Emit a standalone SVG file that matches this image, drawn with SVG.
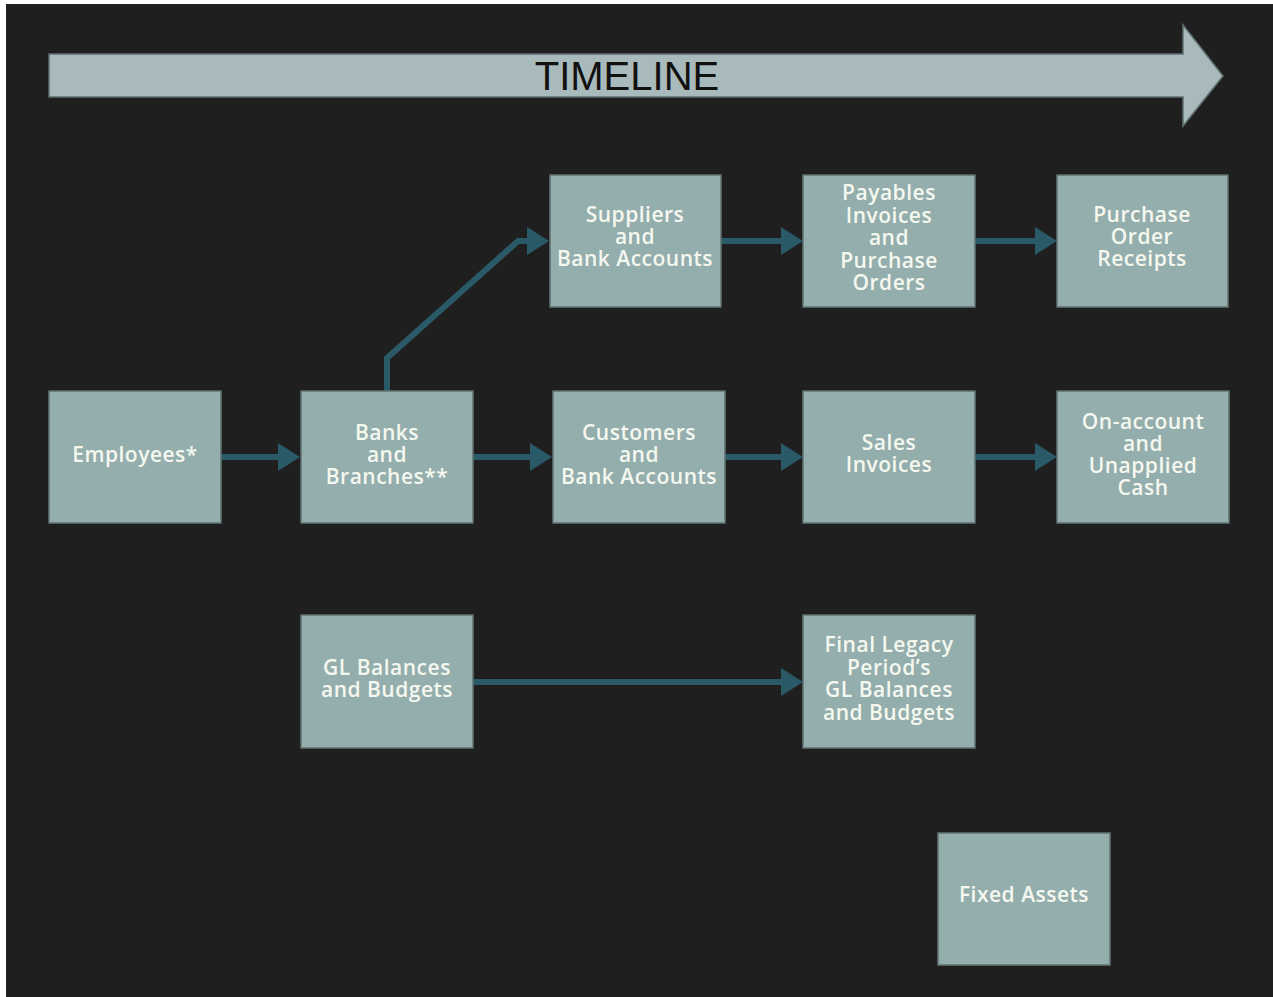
<svg xmlns="http://www.w3.org/2000/svg" width="1273" height="997" viewBox="0 0 1273 997">
<defs>
<style>
.node rect{fill:#94adad;stroke:#607373;stroke-width:1.5}
.node text{font-family:"Open Sans","Noto Sans",sans-serif;font-weight:600;font-size:21px;letter-spacing:0.5px;fill:#f4f8ef;text-anchor:middle}
.conn{fill:none;stroke:#2a5a68;stroke-width:6;marker-end:url(#ah)}
</style>
<marker id="ah" markerUnits="userSpaceOnUse" markerWidth="22" markerHeight="28" refX="0" refY="14" orient="auto" overflow="visible">
<path d="M0,0 L22,14 L0,28 Z" fill="#2a5a68"/>
</marker>
</defs>
<rect x="0" y="0" width="1273" height="997" fill="#ffffff"/>
<rect x="6" y="4" width="1267" height="993" fill="#1f1f1f"/>
<g id="timeline">
<polygon points="49,54 1183,54 1183,25 1223,76 1183,126 1183,97 49,97" fill="#a9babc" stroke="#5f6f70" stroke-width="1.5"/>
<text x="627" y="90" font-family="Liberation Sans,Arial,sans-serif" font-size="40" fill="#111111" text-anchor="middle">TIMELINE</text>
</g>
<g id="connectors">
<path class="conn" d="M221,457 H278"/>
<path class="conn" d="M473,457 H530"/>
<path class="conn" d="M725,457 H781"/>
<path class="conn" d="M975,457 H1035"/>
<path class="conn" d="M387,391 V358 L518,241 H527"/>
<path class="conn" d="M721,241 H781"/>
<path class="conn" d="M975,241 H1035"/>
<path class="conn" d="M473,682 H781"/>
</g>
<g id="employees" class="node"><rect x="49" y="391" width="172" height="132"/><text x="135" y="462">Employees*</text></g>
<g id="banks" class="node"><rect x="301" y="391" width="172" height="132"/><text x="387" y="440">Banks<tspan x="387" dy="22">and</tspan><tspan x="387" dy="22">Branches**</tspan></text></g>
<g id="customers" class="node"><rect x="553" y="391" width="172" height="132"/><text x="639" y="440">Customers<tspan x="639" dy="22">and</tspan><tspan x="639" dy="22">Bank Accounts</tspan></text></g>
<g id="sales" class="node"><rect x="803" y="391" width="172" height="132"/><text x="889" y="450">Sales<tspan x="889" dy="22">Invoices</tspan></text></g>
<g id="onaccount" class="node"><rect x="1057" y="391" width="172" height="132"/><text x="1143" y="429">On-account<tspan x="1143" dy="22">and</tspan><tspan x="1143" dy="22">Unapplied</tspan><tspan x="1143" dy="22">Cash</tspan></text></g>
<g id="suppliers" class="node"><rect x="550" y="175" width="171" height="132"/><text x="635" y="222">Suppliers<tspan x="635" dy="22">and</tspan><tspan x="635" dy="22">Bank Accounts</tspan></text></g>
<g id="payables" class="node"><rect x="803" y="175" width="172" height="132"/><text x="889" y="200">Payables<tspan x="889" dy="22.5">Invoices</tspan><tspan x="889" dy="22.5">and</tspan><tspan x="889" dy="22.5">Purchase</tspan><tspan x="889" dy="22.5">Orders</tspan></text></g>
<g id="poreceipts" class="node"><rect x="1057" y="175" width="171" height="132"/><text x="1142" y="222">Purchase<tspan x="1142" dy="22">Order</tspan><tspan x="1142" dy="22">Receipts</tspan></text></g>
<g id="glbalances" class="node"><rect x="301" y="615" width="172" height="133"/><text x="387" y="675">GL Balances<tspan x="387" dy="22">and Budgets</tspan></text></g>
<g id="finallegacy" class="node"><rect x="803" y="615" width="172" height="133"/><text x="889" y="652">Final Legacy<tspan x="889" dy="22.5">Period’s</tspan><tspan x="889" dy="22.5">GL Balances</tspan><tspan x="889" dy="22.5">and Budgets</tspan></text></g>
<g id="fixedassets" class="node"><rect x="938" y="833" width="172" height="132"/><text x="1024" y="902">Fixed Assets</text></g>
</svg>
